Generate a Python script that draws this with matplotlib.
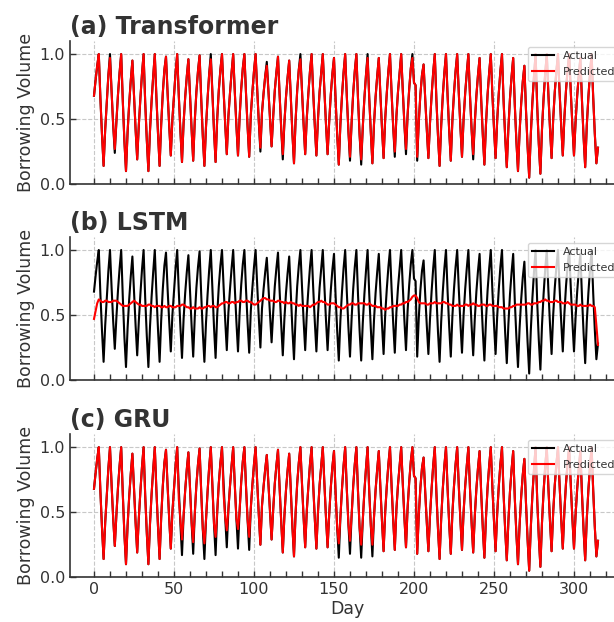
import numpy as np
import matplotlib.pyplot as plt

# daily borrowing volume (normalised), one row per week
actual = [
    0.68, 0.80, 0.91, 1.00, 0.66, 0.38, 0.14,
    0.42, 0.63, 0.84, 1.00, 0.71, 0.45, 0.24,
    0.48, 0.69, 0.86, 1.00, 0.64, 0.33, 0.10,
    0.40, 0.62, 0.80, 0.95, 0.68, 0.42, 0.19,
    0.45, 0.66, 0.85, 1.00, 0.63, 0.34, 0.10,
    0.41, 0.64, 0.83, 1.00, 0.67, 0.39, 0.14,
    0.46, 0.70, 0.88, 0.98, 0.70, 0.45, 0.22,
    0.50, 0.68, 0.86, 1.00, 0.68, 0.41, 0.17,
    0.47, 0.67, 0.83, 0.96, 0.69, 0.42, 0.18,
    0.49, 0.71, 0.87, 0.99, 0.66, 0.37, 0.14,
    0.44, 0.66, 0.85, 1.00, 0.70, 0.41, 0.17,
    0.50, 0.72, 0.88, 1.00, 0.72, 0.46, 0.23,
    0.52, 0.70, 0.86, 1.00, 0.71, 0.45, 0.22,
    0.51, 0.73, 0.89, 1.00, 0.70, 0.44, 0.21,
    0.53, 0.71, 0.87, 1.00, 0.73, 0.48, 0.25,
    0.55, 0.70, 0.83, 0.94, 0.72, 0.50, 0.29,
    0.52, 0.72, 0.86, 0.98, 0.69, 0.43, 0.19,
    0.47, 0.67, 0.82, 0.95, 0.66, 0.39, 0.16,
    0.49, 0.72, 0.88, 1.00, 0.72, 0.46, 0.23,
    0.51, 0.70, 0.87, 1.00, 0.71, 0.45, 0.22,
    0.50, 0.71, 0.86, 1.00, 0.72, 0.46, 0.23,
    0.48, 0.69, 0.85, 0.97, 0.65, 0.38, 0.15,
    0.46, 0.68, 0.86, 1.00, 0.68, 0.41, 0.18,
    0.47, 0.70, 0.87, 1.00, 0.66, 0.38, 0.15,
    0.44, 0.66, 0.84, 1.00, 0.67, 0.40, 0.16,
    0.46, 0.67, 0.83, 0.97, 0.69, 0.43, 0.20,
    0.50, 0.70, 0.87, 1.00, 0.70, 0.44, 0.21,
    0.52, 0.71, 0.86, 1.00, 0.72, 0.46, 0.23,
    0.53, 0.73, 0.89, 1.00, 0.78, 0.76, 0.18,
    0.48, 0.69, 0.84, 0.92, 0.66, 0.42, 0.20,
    0.47, 0.68, 0.86, 1.00, 0.65, 0.37, 0.14,
    0.45, 0.68, 0.86, 1.00, 0.68, 0.41, 0.18,
    0.49, 0.70, 0.87, 1.00, 0.70, 0.44, 0.21,
    0.50, 0.70, 0.86, 1.00, 0.68, 0.42, 0.19,
    0.47, 0.68, 0.84, 0.97, 0.65, 0.38, 0.15,
    0.46, 0.69, 0.86, 1.00, 0.69, 0.43, 0.20,
    0.49, 0.70, 0.87, 1.00, 0.64, 0.36, 0.13,
    0.43, 0.66, 0.83, 0.97, 0.61, 0.33, 0.10,
    0.40, 0.62, 0.79, 0.91, 0.57, 0.29, 0.05,
    0.38, 0.63, 0.83, 1.00, 0.60, 0.31, 0.08,
    0.42, 0.66, 0.85, 1.00, 0.69, 0.43, 0.20,
    0.50, 0.71, 0.87, 1.00, 0.71, 0.45, 0.22,
    0.51, 0.72, 0.88, 1.00, 0.71, 0.45, 0.22,
    0.48, 0.68, 0.84, 0.97, 0.64, 0.36, 0.13,
    0.45, 0.67, 0.85, 1.00, 0.67, 0.39, 0.16,
    0.28,
]

# LSTM prediction stays flat around 0.6
lstm_pred = [
    0.47, 0.53, 0.59, 0.62, 0.61, 0.60, 0.60,
    0.61, 0.61, 0.60, 0.60, 0.60, 0.61, 0.61,
    0.61, 0.60, 0.59, 0.58, 0.57, 0.57, 0.57,
    0.57, 0.58, 0.59, 0.60, 0.61, 0.60, 0.59,
    0.58, 0.58, 0.57, 0.57, 0.57, 0.57, 0.58,
    0.58, 0.57, 0.57, 0.56, 0.57, 0.57, 0.57,
    0.56, 0.56, 0.57, 0.56, 0.56, 0.57, 0.57,
    0.56, 0.56, 0.56, 0.57, 0.57, 0.57, 0.58,
    0.58, 0.57, 0.56, 0.56, 0.55, 0.55, 0.56,
    0.55, 0.55, 0.55, 0.56, 0.55, 0.55, 0.56,
    0.56, 0.57, 0.57, 0.56, 0.57, 0.57, 0.56,
    0.56, 0.57, 0.58, 0.59, 0.59, 0.60, 0.60,
    0.59, 0.59, 0.60, 0.60, 0.59, 0.60, 0.60,
    0.61, 0.61, 0.60, 0.60, 0.61, 0.61, 0.60,
    0.60, 0.59, 0.58, 0.58, 0.59, 0.60, 0.61,
    0.62, 0.63, 0.63, 0.62, 0.62, 0.61, 0.61,
    0.61, 0.60, 0.60, 0.61, 0.61, 0.60, 0.60,
    0.59, 0.60, 0.59, 0.59, 0.60, 0.59, 0.59,
    0.58, 0.58, 0.57, 0.58, 0.57, 0.57, 0.57,
    0.57, 0.57, 0.56, 0.57, 0.58, 0.58, 0.59,
    0.60, 0.60, 0.61, 0.60, 0.60, 0.59, 0.58,
    0.58, 0.59, 0.59, 0.59, 0.58, 0.57, 0.56,
    0.56, 0.55, 0.55, 0.56, 0.57, 0.58, 0.58,
    0.59, 0.59, 0.58, 0.58, 0.59, 0.59, 0.59,
    0.59, 0.59, 0.58, 0.58, 0.59, 0.58, 0.57,
    0.57, 0.57, 0.56, 0.56, 0.56, 0.55, 0.55,
    0.54, 0.55, 0.55, 0.56, 0.56, 0.57, 0.57,
    0.57, 0.57, 0.58, 0.58, 0.59, 0.59, 0.60,
    0.60, 0.61, 0.62, 0.64, 0.65, 0.65, 0.63,
    0.60, 0.59, 0.59, 0.59, 0.59, 0.58, 0.58,
    0.59, 0.59, 0.59, 0.60, 0.59, 0.59, 0.59,
    0.59, 0.60, 0.60, 0.59, 0.59, 0.58, 0.58,
    0.57, 0.57, 0.57, 0.58, 0.57, 0.57, 0.57,
    0.57, 0.58, 0.58, 0.57, 0.58, 0.58, 0.59,
    0.58, 0.58, 0.57, 0.57, 0.58, 0.58, 0.58,
    0.57, 0.57, 0.58, 0.58, 0.57, 0.57, 0.57,
    0.57, 0.56, 0.56, 0.56, 0.55, 0.55, 0.55,
    0.55, 0.56, 0.56, 0.57, 0.57, 0.58, 0.58,
    0.58, 0.58, 0.58, 0.58, 0.58, 0.59, 0.59,
    0.58, 0.58, 0.59, 0.59, 0.59, 0.60, 0.60,
    0.61, 0.61, 0.62, 0.61, 0.61, 0.60, 0.60,
    0.60, 0.61, 0.61, 0.60, 0.60, 0.60, 0.59,
    0.59, 0.59, 0.60, 0.59, 0.58, 0.58, 0.58,
    0.58, 0.57, 0.57, 0.58, 0.57, 0.57, 0.57,
    0.57, 0.57, 0.58, 0.57, 0.57, 0.56, 0.42,
    0.27,
]

# Transformer / GRU follow the actual series except on these days
transformer_days = [10, 13, 73, 104, 108, 118, 129, 160, 167, 171, 188, 195, 199, 202, 237]
transformer_vals = [0.97, 0.27, 0.96, 0.28, 0.91, 0.23, 0.96, 0.21, 0.19, 0.97, 0.25, 0.27, 0.97, 0.21, 0.23]

gru_days = [53, 54, 55, 62, 69, 76, 81, 83, 90, 97, 153, 160, 167, 174]
gru_vals = [0.60, 0.45, 0.29, 0.27, 0.26, 0.31, 0.64, 0.36, 0.37, 0.31, 0.26, 0.28, 0.25, 0.25]

transformer_pred = list(actual)
for d, v in zip(transformer_days, transformer_vals):
    transformer_pred[d] = v
gru_pred = list(actual)
for d, v in zip(gru_days, gru_vals):
    gru_pred[d] = v

dark = '#333333'
plt.rcParams['text.color'] = dark
plt.rcParams['axes.labelcolor'] = dark
plt.rcParams['xtick.color'] = dark
plt.rcParams['ytick.color'] = dark
plt.rcParams['axes.edgecolor'] = dark

days = np.arange(len(actual))
fig = plt.figure(figsize=(6.14, 6.22), dpi=100)

panels = [
    ('(a) Transformer', transformer_pred, 0.704),
    ('(b) LSTM', lstm_pred, 0.389),
    ('(c) GRU', gru_pred, 0.072),
]

for i, (title, pred, bottom) in enumerate(panels):
    ax = fig.add_axes([0.114, bottom, 0.905, 0.23])
    ax.plot(days, actual, color='black', linewidth=1.5, label='Actual')
    ax.plot(days, pred, color='red', linewidth=1.5, label='Predicted')
    ax.set_xlim(-15, 332.3)
    ax.set_ylim(0, 1.1)
    ax.set_yticks([0.0, 0.5, 1.0])
    ax.set_xticks(np.arange(0, 301, 50))
    ax.set_xticks(np.arange(0, 331, 10), minor=True)
    ax.tick_params(direction='in', labelsize=11.5, length=4, width=1)
    ax.tick_params(which='minor', direction='in', length=4, width=1)
    for side in ['top', 'right']:
        ax.spines[side].set_visible(False)
    for side in ['left', 'bottom']:
        ax.spines[side].set_linewidth(1.2)
    ax.grid(True, linestyle='--', color='#c8c8c8', linewidth=0.8)
    ax.set_axisbelow(True)
    ax.set_title(title, loc='left', fontsize=17, fontweight='bold', pad=5)
    ax.set_ylabel('Borrowing Volume', fontsize=12.5, labelpad=3)
    ax.legend(loc='upper right', fontsize=8)
    if i < 2:
        ax.tick_params(labelbottom=False)
    else:
        ax.set_xlabel('Day', fontsize=12.5, labelpad=2)

fig.savefig('out.png', dpi=100)
